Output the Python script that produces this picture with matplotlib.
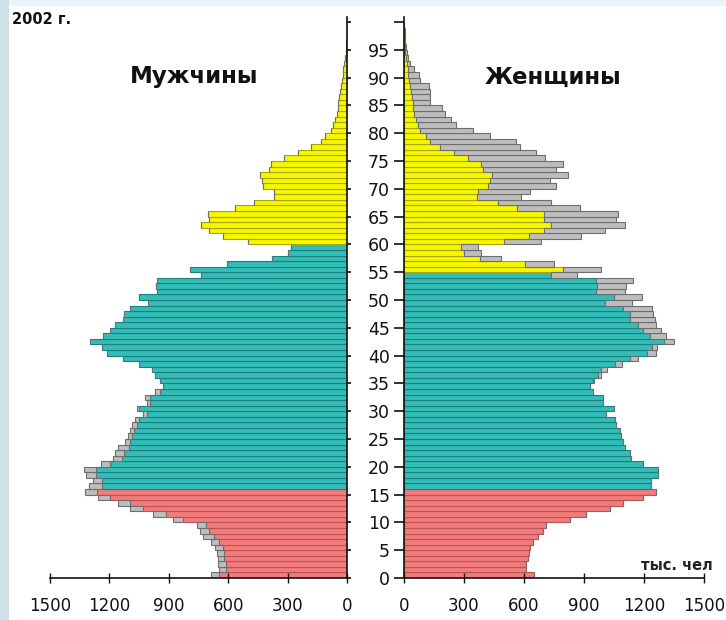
import numpy as np
import matplotlib
matplotlib.use("Agg")
import matplotlib.pyplot as plt
from matplotlib.patches import Rectangle

plt.rcParams['font.family'] = ['DejaVu Sans']

# ---- data (thousand people), ages 0..99 ----
ages = list(range(0, 100))
male = [685, 645, 650, 652, 658, 668, 685, 725, 742, 758,
        877, 980, 1096, 1157, 1257, 1323, 1302, 1285, 1318, 1328,
        1240, 1180, 1172, 1155, 1121, 1104, 1096, 1087, 1071, 1030,
        1062, 1012, 1020, 970, 928, 944, 970, 986, 1053, 1130,
        1214, 1239, 1298, 1231, 1197, 1172, 1130, 1128, 1096, 1005,
        1050, 958, 965, 962, 735, 795, 605, 379, 300, 283,
        498, 627, 698, 735, 698, 700, 564, 472, 367, 368,
        422, 430, 438, 393, 384, 318, 250, 180, 130, 112,
        80, 70, 62, 52, 47, 43, 38, 34, 31, 26,
        22, 18, 13, 9, 6, 4, 3, 2, 1, 1]
female = [648, 612, 612, 620, 623, 628, 645, 670, 695, 710,
          828, 912, 1028, 1095, 1195, 1262, 1237, 1237, 1270, 1270,
          1195, 1137, 1128, 1103, 1095, 1087, 1078, 1062, 1053, 1012,
          1050, 997, 997, 945, 930, 950, 985, 1013, 1088, 1170,
          1258, 1266, 1350, 1308, 1283, 1262, 1255, 1246, 1240, 1138,
          1190, 1104, 1112, 1146, 867, 987, 748, 487, 387, 370,
          687, 887, 1003, 1103, 1062, 1070, 878, 737, 587, 628,
          758, 728, 820, 758, 795, 704, 662, 580, 560, 430,
          345, 262, 237, 205, 190, 130, 130, 128, 125, 80,
          76, 48, 32, 22, 14, 10, 7, 4, 3, 2]
x_ticks = [0, 300, 600, 900, 1200, 1500]
age_ticks = list(range(0, 101, 5))
age_labels = [str(a) if a < 100 else '' for a in age_ticks]
male_work_end = 60
female_work_end = 55
child_end = 16

# ---- styles ----
RED, RED_E = '#f37b7b', '#b85555'
TEAL, TEAL_E = '#33bdb8', '#1c7f7b'
YEL, YEL_E = '#f7f700', '#a8a800'
GREY, GREY_E = '#bdbdbd', '#6e6e6e'

def colors_for(work_end):
    fc, ec = [], []
    for a in ages:
        if a < child_end:
            fc.append(RED); ec.append(RED_E)
        elif a < work_end:
            fc.append(TEAL); ec.append(TEAL_E)
        else:
            fc.append(YEL); ec.append(YEL_E)
    return fc, ec

W, H = 726, 620
fig = plt.figure(figsize=(W / 100, H / 100), dpi=100)
fig.patch.set_facecolor('white')
# slide background bands
fig.add_artist(Rectangle((0, 1 - 6 / H), 1, 6 / H, transform=fig.transFigure,
                         facecolor='#e6f5f9', edgecolor='none', zorder=0))
fig.add_artist(Rectangle((0, 0), 9 / W, 1, transform=fig.transFigure,
                         facecolor='#cfe2e8', edgecolor='none', zorder=0))

def rect(x0, x1, ytop, ybot):
    return [x0 / W, 1 - ybot / H, (x1 - x0) / W, (ybot - ytop) / H]

axL = fig.add_axes(rect(50, 347, 17, 578))
axR = fig.add_axes(rect(404, 704, 17, 578))

m = np.array(male, dtype=float)
f = np.array(female, dtype=float)
base = np.minimum(m, f)
ex_m = np.clip(m - f, 0, None)
ex_f = np.clip(f - m, 0, None)

fcL, ecL = colors_for(male_work_end)
fcR, ecR = colors_for(female_work_end)
lw = 0.8
axL.barh(ages, base, height=1, align='edge', color=fcL, edgecolor=ecL, linewidth=lw)
axL.barh(ages, ex_m, left=base, height=1, align='edge', color=GREY, edgecolor=GREY_E, linewidth=lw)
axR.barh(ages, base, height=1, align='edge', color=fcR, edgecolor=ecR, linewidth=lw)
axR.barh(ages, ex_f, left=base, height=1, align='edge', color=GREY, edgecolor=GREY_E, linewidth=lw)

for ax in (axL, axR):
    ax.set_ylim(0, 100.9)
    ax.set_facecolor('none')
    ax.spines['top'].set_visible(False)
    ax.set_xticks(x_ticks)
    ax.set_xticklabels([str(v) for v in x_ticks])
    ax.tick_params(axis='x', direction='inout', length=7, width=1, labelsize=12,
                   pad=10, colors='#111111')
    ax.spines['bottom'].set_color('#111111')
    ax.spines['bottom'].set_linewidth(1.2)

axL.set_xlim(1500, 0)
axR.set_xlim(0, 1500)

axL.spines['left'].set_visible(False)
axL.spines['right'].set_color('#111111')
axL.spines['right'].set_linewidth(1.2)
axL.yaxis.tick_right()
axL.set_yticks(age_ticks)
axL.set_yticklabels([])
axL.tick_params(axis='y', direction='out', length=3, width=1.2, colors='#111111')

axR.spines['right'].set_visible(False)
axR.spines['left'].set_color('#111111')
axR.spines['left'].set_linewidth(1.2)
axR.set_yticks(age_ticks)
axR.set_yticklabels(age_labels)
axR.tick_params(axis='y', direction='out', length=7, width=1.2, labelsize=12.5,
                pad=3, colors='#111111')

fig.text(12 / W, 1 - 19 / H, '2002 г.', fontsize=10.5, fontweight='bold',
         ha='left', va='center', color='#111111')
fig.text(194 / W, 1 - 77 / H, 'Мужчины', fontsize=16.5, fontweight='bold',
         ha='center', va='center', color='#111111')
fig.text(553 / W, 1 - 77 / H, 'Женщины', fontsize=16.5, fontweight='bold',
         ha='center', va='center', color='#111111')
fig.text(677 / W, 1 - 566 / H, 'тыс. чел', fontsize=10.5, fontweight='bold',
         ha='center', va='center', color='#222222')

fig.savefig('out.png', dpi=100, facecolor=fig.get_facecolor())
